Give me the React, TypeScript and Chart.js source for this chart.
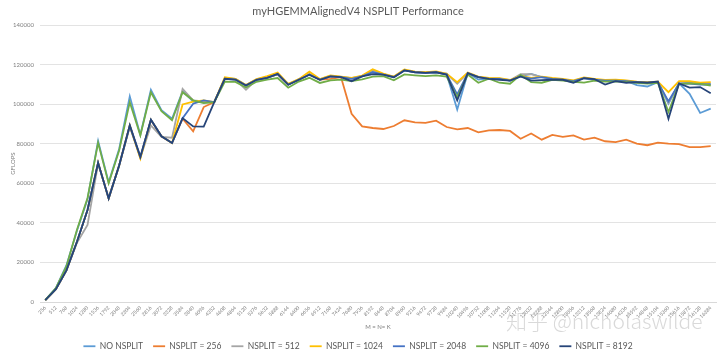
import React, { useEffect, useRef } from 'react';
import { Chart, registerables } from 'chart.js';
Chart.register(...registerables);

const sizes = ['256', '512', '768', '1024', '1280', '1536', '1792', '2048', '2304', '2560', '2816', '3072', '3328', '3584', '3840', '4096', '4352', '4608', '4864', '5120', '5376', '5632', '5888', '6144', '6400', '6656', '6912', '7168', '7424', '7680', '7936', '8192', '8448', '8704', '8960', '9216', '9472', '9728', '9984', '10240', '10496', '10752', '11008', '11264', '11520', '11776', '12032', '12288', '12544', '12800', '13056', '13312', '13568', '13824', '14080', '14336', '14592', '14848', '15104', '15360', '15616', '15872', '16128', '16384'];

const noSplit = [1000, 7000, 18500, 36000, 52000, 81500, 60500, 77500, 104000, 84500, 107300, 97000, 92700, 106500, 101500, 101000, 101100, 113200, 112800, 109700, 112600, 113600, 115300, 110100, 112600, 115200, 112600, 114300, 113900, 113200, 114300, 116400, 115200, 113900, 117200, 116300, 116000, 116300, 115200, 97300, 115800, 112500, 113000, 113000, 112000, 114200, 115400, 113800, 113000, 112500, 111800, 113300, 112500, 112100, 112100, 111800, 109700, 109000, 111200, 100300, 110600, 105300, 95600, 97800];
const split256 = [1000, 6500, 16000, 30500, 46500, 70400, 52400, 69200, 89300, 73000, 92000, 83800, 80400, 92700, 86300, 98600, 101100, 113000, 112600, 109600, 112500, 113500, 115100, 110000, 112500, 115100, 112500, 112900, 113700, 95200, 88800, 88000, 87500, 89000, 91900, 90900, 90600, 91700, 88500, 87300, 88000, 85800, 86800, 87000, 86500, 82600, 85200, 82100, 84500, 83500, 84300, 82100, 83100, 81300, 80900, 82100, 80100, 79300, 80600, 80100, 79800, 78300, 78300, 78800];
const split512 = [1000, 6500, 16000, 30000, 39000, 70000, 52500, 69000, 88500, 73000, 89300, 83500, 83100, 107800, 102000, 101500, 101100, 113000, 112600, 107300, 112500, 113500, 115200, 110000, 112500, 115300, 112600, 114300, 113900, 113000, 114300, 117200, 115200, 113900, 117300, 116400, 116100, 116400, 115500, 110400, 115800, 113800, 113000, 113000, 112200, 115300, 115200, 113800, 113000, 112500, 111800, 113300, 112500, 112100, 112100, 111800, 111200, 110900, 111200, 100800, 110600, 111000, 110500, 110500];
const split1024 = [1000, 6500, 16000, 30500, 46500, 70400, 52400, 69200, 89300, 72500, 92200, 83800, 80400, 99900, 101400, 102000, 101100, 113700, 112800, 109700, 112800, 114200, 116000, 110300, 112700, 116500, 112800, 114600, 114000, 113300, 114500, 117700, 115500, 114000, 117600, 116500, 116300, 116600, 115400, 111200, 116000, 114000, 113300, 113200, 112300, 114500, 113400, 114000, 113300, 112800, 112100, 113600, 112800, 112300, 112400, 112100, 111500, 111200, 111400, 106100, 111700, 111700, 110900, 111200];
const split2048 = [1000, 6500, 16000, 30500, 46500, 70400, 52400, 69200, 89300, 73400, 92200, 83800, 80400, 93000, 100300, 102000, 101100, 112900, 112500, 109500, 112400, 113400, 115200, 109900, 112400, 115000, 112400, 114100, 113700, 112900, 114100, 116200, 115000, 113700, 117100, 116200, 115900, 116200, 115000, 105000, 115700, 113700, 112900, 112900, 112000, 114100, 113000, 113700, 112900, 112400, 111700, 113200, 112400, 112000, 112000, 111700, 111200, 110900, 111200, 101500, 110500, 110500, 110000, 110000];
const split4096 = [1000, 7000, 18000, 36500, 52600, 80500, 60000, 76800, 101100, 84300, 106100, 96500, 91900, 106100, 102000, 100600, 101100, 111500, 111300, 108500, 111400, 112500, 113300, 108400, 111500, 113400, 110800, 112100, 112500, 111700, 112600, 114000, 114200, 112100, 115100, 114600, 114200, 114600, 114000, 103600, 115000, 110900, 112900, 110900, 110400, 114900, 111200, 110900, 112400, 112000, 111400, 111000, 112000, 111500, 111600, 111300, 110800, 110500, 110800, 96100, 110300, 110600, 110300, 109500];
const split8192 = [1000, 6500, 16000, 30500, 46500, 70400, 52400, 69200, 89300, 73400, 92200, 83800, 80400, 93000, 88800, 88700, 101100, 112900, 112500, 109500, 112400, 113400, 115400, 109900, 112400, 115000, 112400, 114100, 113700, 111700, 114100, 115300, 115000, 113700, 117100, 116200, 115900, 116200, 115000, 102000, 115700, 113700, 112900, 112400, 112000, 114100, 112000, 112200, 112400, 112400, 110900, 113200, 112700, 110000, 111700, 110900, 111200, 110900, 111500, 92700, 110500, 108400, 108700, 105600];

const seriesNames = ['NO NSPLIT', 'NSPLIT = 256', 'NSPLIT = 512', 'NSPLIT = 1024', 'NSPLIT = 2048', 'NSPLIT = 4096', 'NSPLIT = 8192'];
const seriesData = [noSplit, split256, split512, split1024, split2048, split4096, split8192];
const seriesColors = ['#5B9BD5', '#ED7D31', '#A5A5A5', '#FFC000', '#4472C4', '#70AD47', '#264478'];

const FONT = 'Lato, "Open Sans", sans-serif';

export default function App() {
  const ref = useRef<HTMLCanvasElement>(null);
  useEffect(() => {
    const chart = new Chart(ref.current!, {
      type: 'line',
      data: {
        labels: sizes,
        datasets: seriesNames.map((name, i) => ({
          label: name,
          data: seriesData[i],
          borderColor: seriesColors[i],
          backgroundColor: seriesColors[i],
          borderWidth: 1.8,
          pointRadius: 0,
          tension: 0,
          fill: false,
          order: seriesNames.length - 1 - i,
        })),
      },
      options: {
        responsive: false,
        devicePixelRatio: 1,
        animation: false,
        layout: { padding: { left: 0, right: 4, top: 0, bottom: 0 } },
        plugins: {
          title: {
            display: true,
            text: 'myHGEMMAlignedV4 NSPLIT Performance',
            color: '#595959',
            font: { family: FONT, size: 11, weight: 'normal' },
            padding: { top: 5, bottom: 7 },
          },
          legend: {
            position: 'bottom',
            maxHeight: 27,
            labels: {
              color: '#595959',
              font: { family: FONT, size: 8.5 },
              usePointStyle: true,
              pointStyle: 'line',
              pointStyleWidth: 12,
              boxHeight: 8.5,
              padding: 10,
              sort: (a: any, b: any) => a.datasetIndex - b.datasetIndex,
            },
          },
          tooltip: { enabled: false },
        },
        scales: {
          x: {
            offset: true,
            grid: { display: false, drawTicks: false },
            border: { display: true, color: '#d9d9d9' },
            ticks: {
              autoSkip: false,
              minRotation: 45,
              maxRotation: 45,
              color: '#7f7f7f',
              font: { family: FONT, size: 5 },
              padding: 3,
            },
            title: {
              display: true,
              text: 'M = N= K',
              color: '#7f7f7f',
              font: { family: FONT, size: 6 },
              padding: { top: 1, bottom: 1.5 },
            },
            afterFit: (s: any) => { s.height = 30; },
          },
          y: {
            min: 0,
            max: 140000,
            grid: { color: '#e3e3e3', drawTicks: false },
            border: { display: false },
            ticks: {
              stepSize: 20000,
              color: '#7f7f7f',
              font: { family: FONT, size: 6 },
              padding: 6,
              callback: (v: any) => String(v),
            },
            title: {
              display: true,
              text: 'GFLOPS',
              color: '#7f7f7f',
              font: { family: FONT, size: 6 },
              padding: { top: 9, bottom: 2 },
            },
            afterFit: (s: any) => { s.width = 40; },
          },
        },
      },
    });
    return () => chart.destroy();
  }, []);
  return (
    <div style={{ position: 'fixed', left: 0, top: 0, width: 720, height: 359, background: '#fff', overflow: 'hidden' }}>
      <canvas ref={ref} width={720} height={359} style={{ display: 'block' }} />
      <div
        style={{
          position: 'absolute',
          left: 506,
          top: 305,
          fontFamily: '"Noto Sans CJK SC", "Noto Sans", sans-serif',
          fontWeight: 300,
          fontSize: 21,
          color: 'rgba(170,170,170,0.45)',
          whiteSpace: 'nowrap',
          pointerEvents: 'none',
        }}
      >
        知乎 @nicholaswilde
      </div>
    </div>
  );
}
